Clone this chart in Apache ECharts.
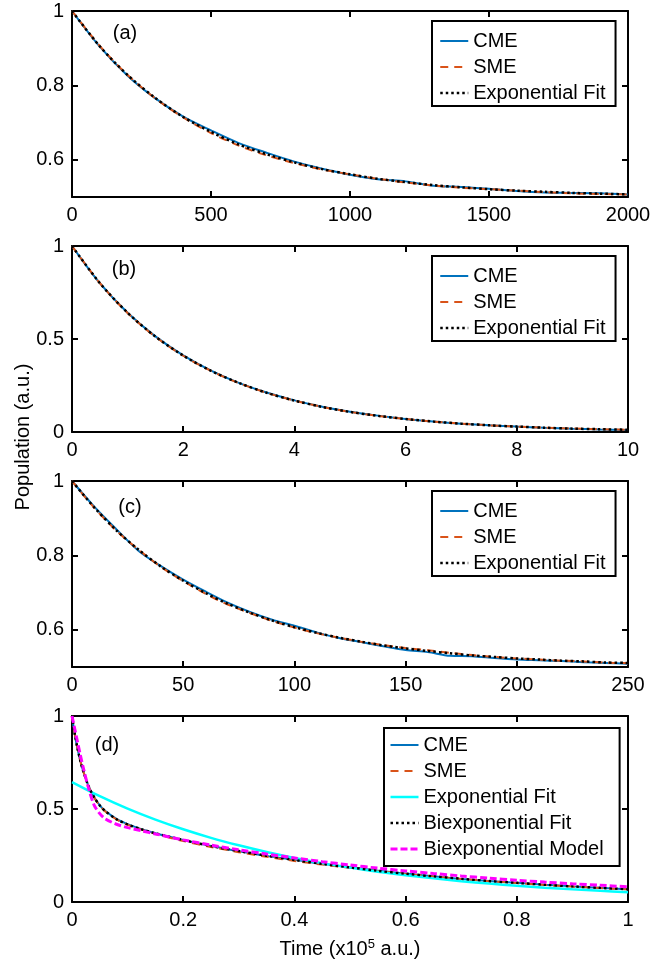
<!DOCTYPE html>
<html>
<head>
<meta charset="utf-8">
<script src="https://cdn.jsdelivr.net/npm/echarts@6/dist/echarts.min.js"></script>
<style>
html,body{margin:0;padding:0;background:#fff;}
#chart{width:661px;height:970px;}
</style>
</head>
<body>
<div id="chart"></div>
<script>
// ---------------- DATA ----------------
// Panel (a)
const tA = [0,100,200,300,400,500,600,700,800,900,1000,1100,1200,1300,1400,1500,1600,1700,1800,1900,2000];
const cmeA = [1.0,0.904,0.826,0.765,0.716,0.679,0.645,0.619,0.595,0.576,0.560,0.548,0.542,0.530,0.527,0.522,0.516,0.512,0.511,0.510,0.507];
const smeA = [1.0,0.906,0.828,0.765,0.714,0.672,0.638,0.612,0.591,0.574,0.561,0.549,0.539,0.531,0.525,0.521,0.517,0.513,0.510,0.508,0.507];
const fitA = [1.0,0.905,0.828,0.766,0.715,0.675,0.641,0.615,0.593,0.575,0.561,0.549,0.540,0.532,0.526,0.521,0.517,0.514,0.511,0.509,0.507];
// Panel (b)
const tB = [0,0.5,1,1.5,2,2.5,3,3.5,4,4.5,5,5.5,6,6.5,7,7.5,8,8.5,9,9.5,10];
const cmeB = [1,0.800,0.641,0.514,0.412,0.330,0.264,0.212,0.170,0.136,0.109,0.088,0.070,0.056,0.045,0.036,0.029,0.023,0.018,0.014,0.011];
const smeB = [1,0.801,0.640,0.512,0.410,0.329,0.263,0.211,0.169,0.135,0.108,0.087,0.070,0.056,0.045,0.036,0.029,0.023,0.019,0.015,0.012];
const fitB = [1,0.801,0.641,0.513,0.411,0.329,0.264,0.211,0.169,0.135,0.108,0.087,0.070,0.056,0.045,0.036,0.029,0.023,0.018,0.015,0.012];
// Panel (c)
const tC = [0,10,20,30,40,50,60,70,80,90,100,110,120,130,140,150,160,170,180,190,200,210,220,230,240,250];
const cmeC = [1,0.931,0.870,0.812,0.771,0.735,0.703,0.673,0.648,0.627,0.611,0.593,0.578,0.567,0.556,0.546,0.540,0.530,0.529,0.524,0.520,0.518,0.516,0.513,0.511,0.509];
const smeC = [1,0.928,0.866,0.815,0.769,0.731,0.697,0.668,0.645,0.624,0.606,0.591,0.579,0.568,0.559,0.551,0.545,0.538,0.532,0.527,0.523,0.520,0.517,0.515,0.512,0.510];
const fitC = [1,0.929,0.867,0.815,0.770,0.732,0.699,0.670,0.646,0.625,0.607,0.592,0.579,0.568,0.558,0.550,0.543,0.537,0.531,0.527,0.523,0.520,0.517,0.515,0.512,0.511];
// Panel (d)  (time in units of 1e5 a.u.)
const tD = [0,0.005,0.01,0.015,0.02,0.03,0.04,0.05,0.06,0.08,0.1,0.125,0.15,0.2,0.25,0.3,0.35,0.4,0.45,0.5,0.55,0.6,0.65,0.7,0.75,0.8,0.85,0.9,0.95,1.0];
const cmeD = [1.0,0.902,0.823,0.760,0.706,0.622,0.563,0.520,0.489,0.447,0.419,0.392,0.370,0.334,0.301,0.273,0.248,0.227,0.205,0.187,0.168,0.153,0.138,0.124,0.113,0.103,0.093,0.084,0.076,0.069];
const smeD = [1.0,0.903,0.824,0.758,0.705,0.620,0.561,0.518,0.487,0.444,0.415,0.389,0.366,0.328,0.296,0.268,0.243,0.221,0.201,0.184,0.167,0.151,0.137,0.124,0.112,0.102,0.092,0.083,0.075,0.068];
const biFitD = [1.0,0.904,0.825,0.759,0.705,0.621,0.562,0.519,0.488,0.445,0.417,0.391,0.369,0.333,0.301,0.274,0.249,0.226,0.205,0.186,0.168,0.152,0.138,0.125,0.113,0.103,0.093,0.084,0.076,0.069];
const biModelD = [1.0,0.93,0.86,0.79,0.725,0.61,0.52,0.475,0.447,0.418,0.400,0.383,0.366,0.334,0.306,0.281,0.258,0.237,0.217,0.199,0.182,0.167,0.153,0.140,0.128,0.117,0.107,0.098,0.090,0.082];
const tDexp = [0,0.05,0.1,0.15,0.2,0.25,0.3,0.35,0.4,0.45,0.5,0.55,0.6,0.65,0.7,0.75,0.8,0.85,0.9,0.95,1.0];
const expFitD = [0.645,0.569,0.502,0.443,0.391,0.345,0.305,0.269,0.237,0.209,0.185,0.163,0.144,0.127,0.112,0.099,0.087,0.077,0.068,0.060,0.053];

// axis ticks
const xTicks = [
  {min:0, max:2000, interval:500},
  {min:0, max:10, interval:2},
  {min:0, max:250, interval:50},
  {min:0, max:1, interval:0.2}
];
const yTicks = [
  [0.6, 0.8, 1],
  [0, 0.5, 1],
  [0.6, 0.8, 1],
  [0, 0.5, 1]
];
const yRanges = [[0.5,1],[0,1],[0.5,1],[0,1]];
const panelLabels = ['(a)','(b)','(c)','(d)'];

// ---------------- STYLE / LAYOUT ----------------
const FONT = '"Liberation Sans", Arial, Helvetica, sans-serif';
const FS = 20;
const gridTops = [11, 246, 481, 716];
const gridH = 186;
const C_CME = '#0072BD', C_SME = '#D95319';
const styCME = {color:C_CME, width:2, type:'solid'};
const stySME = {color:C_SME, width:2, type:[8,6]};
const styFit = {color:'#000', width:2.5, type:[2.5,3]};
const styCyan = {color:'#00FFFF', width:2.5, type:'solid'};
const styMag = {color:'#FF00FF', width:3, type:[7,3]};

const grids = gridTops.map(t => ({left:72, width:556, top:t, height:gridH, containLabel:false}));

const axLine = {show:true, onZero:false, lineStyle:{color:'#000', width:2}};
const axTick = {show:true, inside:true, length:6, lineStyle:{color:'#000', width:2}};
const labStyle = {color:'#000', fontSize:FS, fontFamily:FONT};
const fmt = v => String(+(+v).toFixed(6));

const xAxes = [], yAxes = [];
for (let g = 0; g < 4; g++) {
  const xt = xTicks[g];
  ['bottom','top'].forEach((pos, k) => {
    const ax = {
      gridIndex:g, type:'value', position:pos, min:xt.min, max:xt.max, interval:xt.interval,
      axisLine:axLine, axisTick:axTick, splitLine:{show:false},
      axisLabel: k === 0 ? Object.assign({margin:8, showMinLabel:true, showMaxLabel:true, formatter:fmt}, labStyle) : {show:false}
    };
    if (g === 3 && k === 0) {
      ax.name = 'Time (x10{sup|5} a.u.)';
      ax.nameLocation = 'middle';
      ax.nameGap = 36;
      ax.nameTextStyle = {color:'#000', fontSize:FS, fontFamily:FONT,
        rich:{sup:{fontSize:13, fontFamily:FONT, color:'#000', padding:[0,0,10,0]}}};
    }
    xAxes.push(ax);
  });
  const yr = yRanges[g];
  ['left','right'].forEach((pos, k) => {
    yAxes.push({
      gridIndex:g, type:'value', position:pos, min:yr[0], max:yr[1],
      axisLine:axLine,
      axisTick:Object.assign({customValues:yTicks[g]}, axTick),
      splitLine:{show:false},
      axisLabel: k === 0 ? Object.assign({margin:8, customValues:yTicks[g], formatter:fmt}, labStyle) : {show:false, customValues:yTicks[g]}
    });
  });
}

function mk(name, xs, ys, g, sty, z) {
  return {
    type:'line', name:name, xAxisIndex:2*g, yAxisIndex:2*g,
    data: xs.map((x,i) => [x, ys[i]]),
    symbol:'none', showSymbol:false, smooth:0.3,
    color:sty.color,
    lineStyle:Object.assign({cap:'butt'}, sty), z:z, silent:true, animation:false
  };
}

const series = [
  mk('CME', tA, cmeA, 0, styCME, 2), mk('SME', tA, smeA, 0, stySME, 3), mk('Exponential Fit', tA, fitA, 0, styFit, 4),
  mk('CME', tB, cmeB, 1, styCME, 2), mk('SME', tB, smeB, 1, stySME, 3), mk('Exponential Fit', tB, fitB, 1, styFit, 4),
  mk('CME', tC, cmeC, 2, styCME, 2), mk('SME', tC, smeC, 2, stySME, 3), mk('Exponential Fit', tC, fitC, 2, styFit, 4),
  mk('CME', tD, cmeD, 3, styCME, 2), mk('SME', tD, smeD, 3, stySME, 3), mk('Exponential Fit ', tDexp, expFitD, 3, styCyan, 3),
  mk('Biexponential Fit', tD, biFitD, 3, styFit, 4), mk('Biexponential Model', tD, biModelD, 3, styMag, 5)
];

function legendItem(name, sty) {
  return {name:name,
    lineStyle:{color:sty.color, width:sty.width, type:sty.type},
    itemStyle:{color:'rgba(0,0,0,0)', borderColor:'rgba(0,0,0,0)', borderWidth:0}};
}
const legendBase = {
  show:true, orient:'vertical', itemWidth:28, itemHeight:14, itemGap:6, selectedMode:false,
  borderColor:'#000', borderWidth:2, backgroundColor:'#fff', borderRadius:0, z:10,
  textStyle:{color:'#000', fontSize:FS, fontFamily:FONT}
};
const legends = [0,1,2].map(g => Object.assign({}, legendBase, {
  id:'lg' + g, left:432, top:gridTops[g] + 10, padding:[10,10,3,7],
  data:[legendItem('CME', styCME), legendItem('SME', stySME), legendItem('Exponential Fit', styFit)]
}));
legends.push(Object.assign({}, legendBase, {
  id:'lg3', left:384, top:728, padding:[7,16,7,5],
  data:[legendItem('CME', styCME), legendItem('SME', stySME), legendItem('Exponential Fit ', styCyan),
        legendItem('Biexponential Fit', styFit), legendItem('Biexponential Model', styMag)]
}));

const labelPos = [[125,33],[124,269],[130,507],[107,745]];
const graphic = panelLabels.map((t, i) => ({
  type:'text', x:labelPos[i][0], y:labelPos[i][1], silent:true, z:50,
  style:{text:t, fill:'#000', font:FS + 'px ' + FONT, textAlign:'center', textVerticalAlign:'middle'}
}));
graphic.push({
  type:'text', x:23, y:437, rotation:Math.PI/2, silent:true, z:50,
  style:{text:'Population (a.u.)', fill:'#000', font:FS + 'px ' + FONT, textAlign:'center', textVerticalAlign:'middle'}
});

const chart = echarts.init(document.getElementById('chart'), null, {renderer:'canvas'});
chart.setOption({
  animation:false,
  backgroundColor:'#fff',
  grid:grids, xAxis:xAxes, yAxis:yAxes, series:series,
  legend:legends,
  graphic:graphic
});
</script>
</body>
</html>
